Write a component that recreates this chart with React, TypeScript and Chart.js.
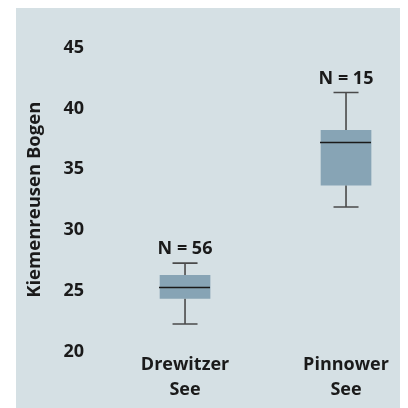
import React, { useEffect, useRef } from "react";
import { Chart, registerables } from "chart.js";

Chart.register(...registerables);

const categories: string[][] = [["Drewitzer", "See"], ["Pinnower", "See"]];
const whiskerLow = [22.3, 31.9];
const q1 = [24.4, 33.7];
const median = [25.3, 37.2];
const q3 = [26.3, 38.2];
const whiskerHigh = [27.3, 41.3];
const nLabels = ["N = 56", "N = 15"];
const yTicks = [20, 25, 30, 35, 40, 45];
const yTitle = "Kiemenreusen Bogen";

const FONT = "'Open Sans', 'Noto Sans', sans-serif";
const BG = "#d5e0e4";
const BOX = "#87a4b5";
const TEXT = "#1a1a1a";
const BOX_W = 50;
const CAP_W = 25;

const boxPlugin = {
  id: "boxExtras",
  beforeDraw(chart: any) {
    const { ctx, width, height } = chart;
    ctx.save();
    ctx.fillStyle = BG;
    ctx.fillRect(0, 0, width, height);
    ctx.restore();
  },
  beforeDatasetsDraw(chart: any) {
    const { ctx } = chart;
    const xs = chart.scales.x;
    const ys = chart.scales.y;
    ctx.save();
    ctx.strokeStyle = "#4a4a4a";
    ctx.lineWidth = 1.6;
    categories.forEach((_, i) => {
      const x = xs.getPixelForValue(i + 1);
      const yHi = ys.getPixelForValue(whiskerHigh[i]);
      const yLo = ys.getPixelForValue(whiskerLow[i]);
      const y3 = ys.getPixelForValue(q3[i]);
      const y1 = ys.getPixelForValue(q1[i]);
      ctx.beginPath();
      ctx.moveTo(x, yHi);
      ctx.lineTo(x, y3);
      ctx.moveTo(x, y1);
      ctx.lineTo(x, yLo);
      ctx.moveTo(x - CAP_W / 2, yHi);
      ctx.lineTo(x + CAP_W / 2, yHi);
      ctx.moveTo(x - CAP_W / 2, yLo);
      ctx.lineTo(x + CAP_W / 2, yLo);
      ctx.stroke();
    });
    ctx.restore();
  },
  afterDatasetsDraw(chart: any) {
    const { ctx } = chart;
    const xs = chart.scales.x;
    const ys = chart.scales.y;
    ctx.save();
    categories.forEach((_, i) => {
      const x = xs.getPixelForValue(i + 1);
      const ym = ys.getPixelForValue(median[i]);
      ctx.strokeStyle = "#1a1a1a";
      ctx.lineWidth = 1.6;
      ctx.beginPath();
      ctx.moveTo(x - BOX_W / 2 - 1, ym);
      ctx.lineTo(x + BOX_W / 2, ym);
      ctx.stroke();
      const yHi = ys.getPixelForValue(whiskerHigh[i]);
      ctx.fillStyle = TEXT;
      ctx.font = `bold 18px ${FONT}`;
      ctx.textAlign = "center";
      ctx.textBaseline = "alphabetic";
      ctx.fillText(nLabels[i], x, yHi - 9);
    });
    ctx.restore();
  },
};

export default function App() {
  const ref = useRef<HTMLCanvasElement | null>(null);
  useEffect(() => {
    if (!ref.current) return;
    const chart = new Chart(ref.current, {
      type: "bar",
      data: {
        datasets: [
          {
            data: categories.map((_, i) => ({ x: i + 1, y: [q1[i], q3[i]] })) as any,
            backgroundColor: BOX,
            borderWidth: 0,
            barThickness: BOX_W,
          },
        ],
      },
      options: {
        animation: false,
        responsive: false,
        devicePixelRatio: 1,
        layout: { padding: { top: 39.5, right: 0, left: 0, bottom: 0 } },
        plugins: { legend: { display: false }, tooltip: { enabled: false } },
        scales: {
          x: {
            type: "linear",
            min: 0.447,
            max: 2.385,
            offset: false,
            grid: { display: false, drawTicks: false },
            border: { display: false },
            afterBuildTicks: (s: any) => {
              s.ticks = categories.map((_, i) => ({ value: i + 1 }));
            },
            afterFit: (s: any) => {
              s.height = 56;
            },
            ticks: {
              padding: 0,
              autoSkip: false,
              maxRotation: 0,
              color: TEXT,
              font: { family: FONT, size: 18, weight: "bold", lineHeight: 1.4 },
              callback: (v: any) => categories[Math.round(Number(v)) - 1] ?? "",
            },
          },
          y: {
            type: "linear",
            min: 20,
            max: 45,
            grid: { display: false, drawTicks: false },
            border: { display: false },
            afterBuildTicks: (s: any) => {
              s.ticks = yTicks.map((v) => ({ value: v }));
            },
            afterFit: (s: any) => {
              s.width = 80;
            },
            ticks: {
              padding: 12,
              color: TEXT,
              font: { family: FONT, size: 18, weight: "bold" },
            },
            title: {
              display: true,
              text: yTitle,
              color: TEXT,
              padding: { top: 8, bottom: 0 },
              font: { family: FONT, size: 18.5, weight: "bold" },
            },
          },
        },
      },
      plugins: [boxPlugin],
    });
    return () => chart.destroy();
  }, []);
  return (
    <div style={{ marginLeft: 8 }}>
      <canvas ref={ref} width={392} height={400} style={{ display: "block" }} />
    </div>
  );
}
